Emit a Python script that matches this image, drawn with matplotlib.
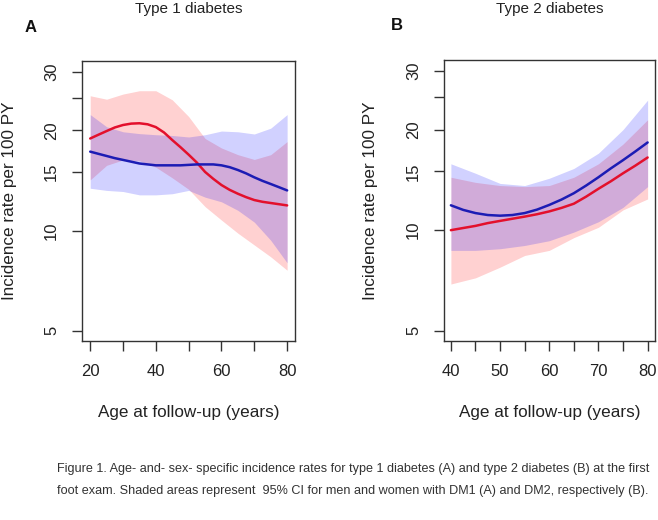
import matplotlib
matplotlib.use("Agg")
import matplotlib.pyplot as plt

plt.rcParams['font.family'] = ['Liberation Sans', 'DejaVu Sans']

# ---------------- data ----------------
# Panel A: type 1 diabetes
age_a_line = [20, 22.5, 25, 27.5, 30, 32.5, 35, 37.5, 40, 42.5, 45, 47.5, 50,
              52.5, 55, 57.5, 60, 62.5, 65, 67.5, 70, 72.5, 75, 77.5, 80]
red_a = [18.9, 19.4, 19.9, 20.4, 20.75, 20.95, 21.0, 20.85, 20.45, 19.7, 18.7, 17.8, 16.9,
         16.0, 15.0, 14.3, 13.7, 13.25, 12.9, 12.6, 12.35, 12.2, 12.1, 12.0, 11.9]
blue_a = [17.26, 17.0, 16.75, 16.5, 16.3, 16.1, 15.9, 15.8, 15.7, 15.7, 15.7, 15.7, 15.75,
          15.8, 15.8, 15.8, 15.7, 15.5, 15.2, 14.85, 14.45, 14.1, 13.8, 13.5, 13.2]

age_a = [20, 25, 30, 35, 40, 45, 50, 55, 60, 65, 70, 75, 80]
red_a_lo = [14.2, 15.7, 16.3, 16.2, 15.5, 14.4, 13.3, 11.8, 10.75, 9.82, 9.05, 8.34, 7.6]
red_a_hi = [25.4, 24.8, 25.7, 26.3, 26.3, 24.7, 22.0, 18.9, 17.7, 16.9, 16.35, 16.9, 18.5]
blue_a_lo = [13.4, 13.2, 13.1, 12.8, 12.8, 12.9, 13.2, 12.6, 12.2, 11.5, 10.6, 9.35, 8.0]
blue_a_hi = [22.3, 20.5, 19.8, 19.55, 19.4, 19.3, 19.1, 19.4, 19.9, 19.8, 19.5, 20.3, 22.3]

# Panel B: type 2 diabetes
age_b_line = [40, 42.5, 45, 47.5, 50, 52.5, 55, 57.5, 60, 62.5, 65, 67.5, 70, 72.5, 75, 77.5, 80]
red_b = [10.0, 10.15, 10.3, 10.5, 10.66, 10.82, 10.98, 11.16, 11.38, 11.66, 12.0, 12.6, 13.3,
         14.0, 14.8, 15.6, 16.5]
blue_b = [11.87, 11.5, 11.25, 11.1, 11.05, 11.1, 11.25, 11.52, 11.9, 12.35, 12.9, 13.6, 14.4,
          15.3, 16.2, 17.2, 18.3]

age_b = [40, 45, 50, 55, 60, 65, 70, 75, 80]
red_b_lo = [6.9, 7.2, 7.75, 8.4, 8.7, 9.5, 10.2, 11.5, 12.4]
red_b_hi = [14.4, 13.9, 13.6, 13.5, 13.6, 14.4, 15.8, 18.1, 21.4]
blue_b_lo = [8.7, 8.7, 8.8, 9.0, 9.3, 9.87, 10.6, 11.7, 13.5]
blue_b_hi = [15.8, 14.8, 13.8, 13.6, 14.3, 15.3, 17.0, 20.0, 24.5]

y_ticks = [5, 10, 15, 20, 25, 30]
y_labels = ["5", "10", "15", "20", "", "30"]
xa_ticks = [20, 30, 40, 50, 60, 70, 80]
xa_labels = ["20", "", "40", "", "60", "", "80"]
xb_ticks = [40, 45, 50, 55, 60, 65, 70, 75, 80]
xb_labels = ["40", "", "50", "", "60", "", "70", "", "80"]

titles = ["Type 1 diabetes", "Type 2 diabetes"]
panel_letters = ["A", "B"]
ylabel = "Incidence rate per 100 PY"
xlabel = "Age at follow-up (years)"
caption = ("Figure 1. Age- and- sex- specific incidence rates for type 1 diabetes (A) and type 2 diabetes (B) at the first\n"
           "foot exam. Shaded areas represent  95% CI for men and women with DM1 (A) and DM2, respectively (B).")

# ---------------- figure ----------------
W, H = 658, 520
fig = plt.figure(figsize=(W / 100, H / 100), dpi=100)

def px_axes(x0, x1, y0, y1):
    return fig.add_axes([x0 / W, 1 - y1 / H, (x1 - x0) / W, (y1 - y0) / H])

ax_a = px_axes(82, 295, 61, 341)
ax_b = px_axes(444, 655, 60, 341)

RED = "#e3102c"
BLUE = "#1c1cb4"
ALPHA = 0.18

panels = [
    (ax_a, age_a_line, red_a, blue_a, age_a, red_a_lo, red_a_hi, blue_a_lo, blue_a_hi,
     xa_ticks, xa_labels, (17.5, 82.4)),
    (ax_b, age_b_line, red_b, blue_b, age_b, red_b_lo, red_b_hi, blue_b_lo, blue_b_hi,
     xb_ticks, xb_labels, (38.6, 81.5)),
]

for (ax, xl_, r, b, x, rlo, rhi, blo, bhi, xt, xlab, xlim) in panels:
    ax.fill_between(x, rlo, rhi, color=(1, 0, 0), alpha=ALPHA, lw=0)
    ax.fill_between(x, blo, bhi, color=(0, 0, 1), alpha=ALPHA, lw=0)
    ax.plot(xl_, r, color=RED, lw=1.8, solid_capstyle='round', solid_joinstyle='round')
    ax.plot(xl_, b, color=BLUE, lw=1.8, solid_capstyle='round', solid_joinstyle='round')
    ax.set_yscale('log')
    ax.set_ylim(4.66, 32.3)
    ax.set_xlim(*xlim)
    ax.yaxis.set_minor_locator(matplotlib.ticker.NullLocator())
    ax.set_yticks(y_ticks)
    ax.set_yticklabels(y_labels, rotation=90, va='center')
    ax.set_xticks(xt)
    ax.set_xticklabels(xlab)
    ax.tick_params(axis='both', direction='out', length=7.5, width=1.0,
                   color='#333333', labelsize=12, labelcolor='#222222', pad=9)
    for s in ax.spines.values():
        s.set_color('#333333')
        s.set_linewidth(1.0)

# titles, letters, axis labels
centers = [(82 + 295) / 2, (444 + 655) / 2]
for i, cx in enumerate(centers):
    fig.text(cx / W, 1 - 9 / H, titles[i], ha='center', va='center',
             fontsize=11, color='#222222')
    fig.text(cx / W, 1 - 412 / H, xlabel, ha='center', va='center',
             fontsize=12.3, color='#222222')
fig.text(31 / W, 1 - 28 / H, panel_letters[0], ha='center', va='center',
         fontsize=12, fontweight='bold', color='#111111')
fig.text(397 / W, 1 - 26 / H, panel_letters[1], ha='center', va='center',
         fontsize=12, fontweight='bold', color='#111111')
fig.text(10 / W, 1 - 201 / H, ylabel, rotation=90, ha='center', va='center',
         fontsize=12.3, color='#222222')
fig.text(371 / W, 1 - 201 / H, ylabel, rotation=90, ha='center', va='center',
         fontsize=12.3, color='#222222')

fig.text(57 / W, 1 - 480 / H, caption, ha='left', va='center',
         fontsize=9.1, color='#333333', linespacing=2.1)

fig.savefig("out.png", dpi=100)
